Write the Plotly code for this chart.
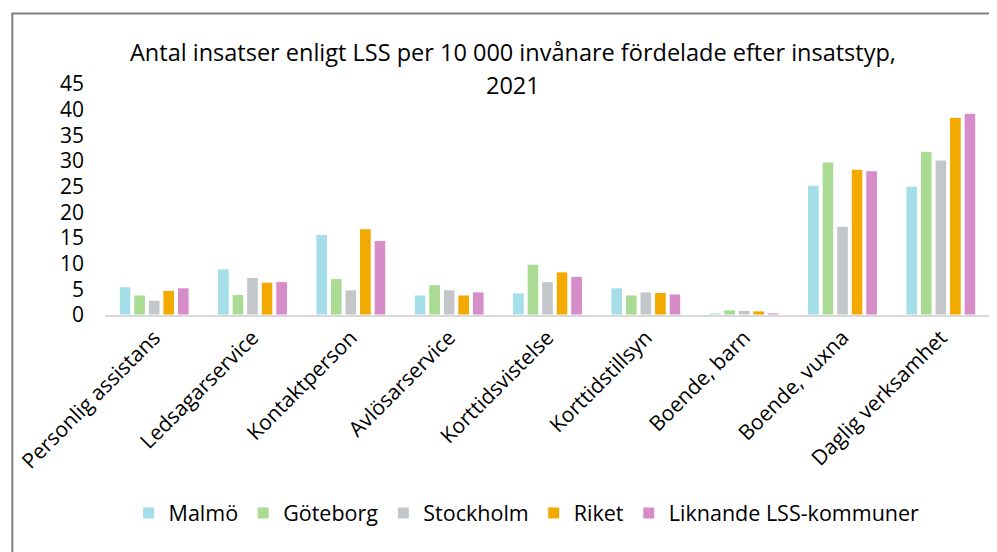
import plotly.graph_objects as go

categories = ["Personlig assistans", "Ledsagarservice", "Kontaktperson", "Avlösarservice",
              "Korttidsvistelse", "Korttidstillsyn", "Boende, barn", "Boende, vuxna",
              "Daglig verksamhet"]
malmo = [5.5, 9.0, 15.7, 3.9, 4.3, 5.3, 0.4, 25.3, 25.1]
goteborg = [3.9, 4.0, 7.1, 5.9, 9.9, 3.9, 1.0, 29.8, 31.9]
stockholm = [2.9, 7.3, 4.9, 4.9, 6.5, 4.5, 0.9, 17.3, 30.2]
riket = [4.8, 6.4, 16.8, 3.9, 8.4, 4.4, 0.8, 28.4, 38.5]
liknande = [5.3, 6.5, 14.5, 4.5, 7.5, 4.1, 0.4, 28.1, 39.3]
y_ticks = list(range(0, 50, 5))

series = [
    ("Malmö", malmo, "#A5DEE8"),
    ("Göteborg", goteborg, "#A9DB92"),
    ("Stockholm", stockholm, "#C3C7CA"),
    ("Riket", riket, "#F2A900"),
    ("Liknande LSS-kommuner", liknande, "#D68CC7"),
]

FONT = "Open Sans"
fig = go.Figure()
for name, vals, col in series:
    fig.add_trace(go.Bar(x=categories, y=vals, name=name,
                         marker=dict(color=col, line=dict(color="white", width=1))))

# page has an 8px body margin; work in page coordinates and convert
OFF = 8
W, H = 997 - OFF, 552 - OFF
PL, PR, PT, PB = 102, 990, 84, 315          # plot area in page coords
L, T = PL - OFF, PT - OFF
R = W - (PR - OFF)
B = H - (PB - OFF)
pw, ph = PR - PL, PB - PT

def px(x):
    return (x - PL) / pw

def py(y):
    return (PB - y) / ph

fig.update_layout(
    width=W, height=H,
    margin=dict(l=L, r=R, t=T, b=B),
    paper_bgcolor="white", plot_bgcolor="white",
    font=dict(family=FONT, size=21, color="black"),
    barmode="group", bargap=0.26, bargroupgap=0.2,
    showlegend=True,
    legend=dict(orientation="h", x=px(525), xanchor="center", y=py(513), yanchor="middle",
                font=dict(size=21.5), itemwidth=30, traceorder="normal"),
    xaxis=dict(showline=True, linecolor="#D9D9D9", linewidth=2, ticks="",
               tickangle=-45, tickfont=dict(size=21), showgrid=False),
    yaxis=dict(range=[0, 45], tickvals=y_ticks, showgrid=False, zeroline=False,
               showline=False, ticks="", tickfont=dict(size=21), ticklabelstandoff=20),
    annotations=[
        dict(text="Antal insatser enligt LSS per 10 000 invånare fördelade efter insatstyp,",
             xref="paper", yref="paper", x=px(511), y=py(52), showarrow=False,
             xanchor="center", yanchor="middle", font=dict(size=23.5)),
        dict(text="2021", xref="paper", yref="paper", x=px(511), y=py(85), showarrow=False,
             xanchor="center", yanchor="middle", font=dict(size=23.5)),
    ],
    shapes=[
        dict(type="rect", xref="paper", yref="paper", x0=px(9), x1=px(1010),
             y0=py(570), y1=py(13.5), line=dict(color="#808080", width=2), layer="below"),
    ],
)
fig.write_html("out.html")
